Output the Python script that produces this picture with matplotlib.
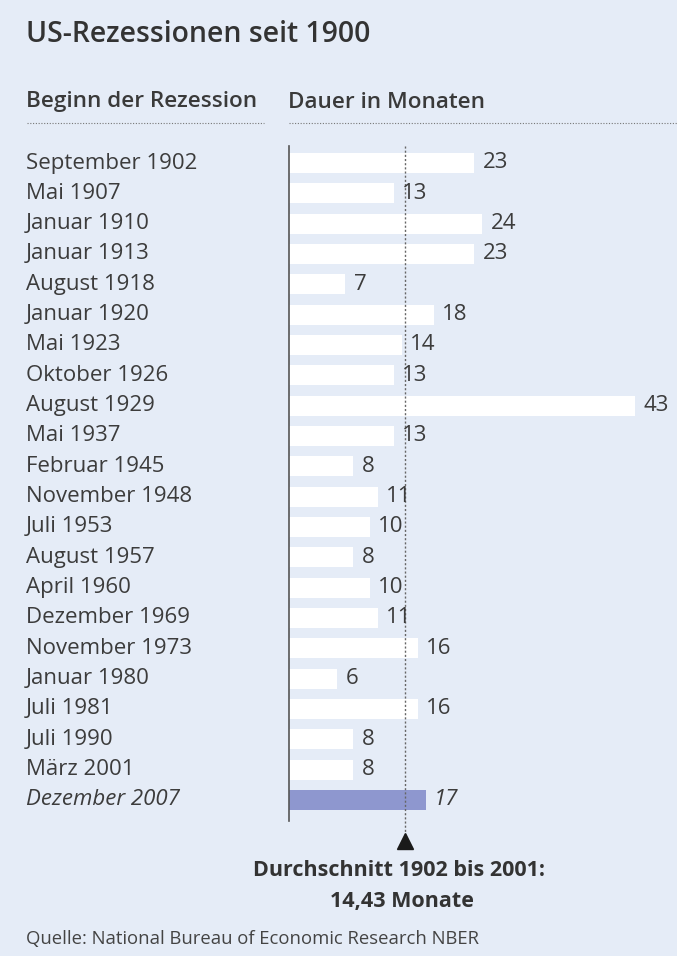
import matplotlib
matplotlib.use("Agg")
import matplotlib.pyplot as plt
import matplotlib.transforms as mtransforms

plt.rcParams["font.family"] = ["Open Sans", "DejaVu Sans"]

# ── data ──────────────────────────────────────────────────────────────────────
START_LABELS = [
    "September 1902", "Mai 1907", "Januar 1910", "Januar 1913", "August 1918",
    "Januar 1920", "Mai 1923", "Oktober 1926", "August 1929", "Mai 1937",
    "Februar 1945", "November 1948", "Juli 1953", "August 1957", "April 1960",
    "Dezember 1969", "November 1973", "Januar 1980", "Juli 1981", "Juli 1990",
    "März 2001", "Dezember 2007",
]
DURATION_MONTHS = [23, 13, 24, 23, 7, 18, 14, 13, 43, 13, 8, 11, 10, 8, 10,
                   11, 16, 6, 16, 8, 8, 17]
AVERAGE_MONTHS = 14.43

BG = "#e5ecf7"
TEXT = "#3c3c3c"
HIGHLIGHT = "#8e97cf"

W, H = 677, 956
fig = plt.figure(figsize=(W / 100, H / 100), dpi=100)
fig.patch.set_facecolor(BG)


def fx(px):
    return px / W


def fy(py):
    return 1 - py / H


# bar axes: zero line at x=289 px, 8.05 px per month
ax_left, ax_right, ax_top, ax_bottom = 289, 677, 146, 821
ax = fig.add_axes([fx(ax_left), fy(ax_bottom), fx(ax_right - ax_left),
                   (ax_bottom - ax_top) / H])
ax.set_facecolor("none")
ax.set_xlim(0, (ax_right - ax_left) / 8.05)
row_px = 30.33
ax.set_ylim((ax_bottom - 163) / row_px, -(163 - ax_top) / row_px)
for s in ["top", "right", "bottom"]:
    ax.spines[s].set_visible(False)
ax.spines["left"].set_color("#555555")
ax.spines["left"].set_linewidth(1.2)
ax.set_xticks([])
ax.set_yticks([])

n = len(DURATION_MONTHS)
colors = ["white"] * (n - 1) + [HIGHLIGHT]
ax.barh(range(n), DURATION_MONTHS, height=0.66, color=colors, edgecolor="none",
        zorder=2)

# average line with marker
y_end = (835 - 163) / row_px
ax.plot([AVERAGE_MONTHS, AVERAGE_MONTHS], [ax.get_ylim()[1], y_end],
        color="#666666", lw=1.0, ls=(0, (1.5, 1.5)), clip_on=False, zorder=3)
ax.plot([AVERAGE_MONTHS], [(841 - 163) / row_px], marker="^", ms=11,
        color="#1a1a1a", clip_on=False, zorder=4)

# value labels and category labels
label_tr = mtransforms.blended_transform_factory(fig.transFigure, ax.transData)
for i, (lab, val) in enumerate(zip(START_LABELS, DURATION_MONTHS)):
    last = i == n - 1
    style = "italic" if last else "normal"
    ax.annotate(str(val), (val, i), xytext=(6, 0), textcoords="offset points",
                va="center", ha="left", fontsize=16, color=TEXT,
                fontstyle=style, zorder=5)
    ax.text(fx(26), i, lab, transform=label_tr, va="center", ha="left",
            fontsize=16, color=TEXT, fontstyle=style)

# title and headers
fig.text(fx(26), fy(35), "US-Rezessionen seit 1900", fontsize=20.4,
         fontweight="semibold", color="#333333", va="center", ha="left")
fig.text(fx(26), fy(102), "Beginn der Rezession", fontsize=16.2,
         fontweight="semibold", color="#3a3a3a", va="center", ha="left")
fig.text(fx(288), fy(102), "Dauer in Monaten", fontsize=16.2,
         fontweight="semibold", color="#3a3a3a", va="center", ha="left")
for x0, x1 in [(27, 264), (289, 677)]:
    fig.add_artist(plt.Line2D([fx(x0), fx(x1)], [fy(123), fy(123)],
                              color="#777777", lw=0.8, ls=(0, (1, 1.5))))

# average annotation
fig.text(fx(399), fy(871), "Durchschnitt 1902 bis 2001:", fontsize=15.5,
         fontweight="bold", color="#333333", ha="center", va="center")
fig.text(fx(402), fy(901), "14,43 Monate", fontsize=15.5,
         fontweight="bold", color="#333333", ha="center", va="center")

fig.text(fx(26), fy(939), "Quelle: National Bureau of Economic Research NBER",
         fontsize=13.3, color="#444444", ha="left", va="center")

fig.savefig("out.png", dpi=100, facecolor=BG)
